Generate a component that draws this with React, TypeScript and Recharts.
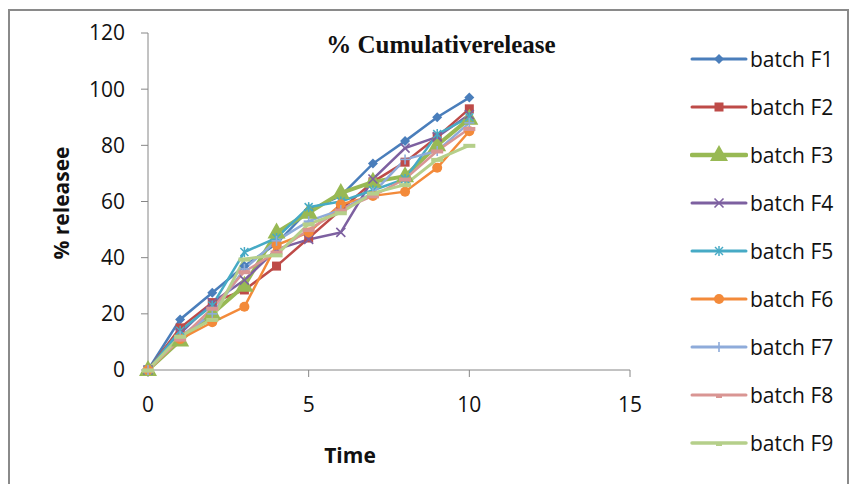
import React from "react";
import { LineChart, Line, XAxis, YAxis, Label } from "recharts";

// time points (h) and cumulative release (%) per batch
const times = [0, 1, 2, 3, 4, 5, 6, 7, 8, 9, 10];
const batchF1 = [0, 18, 27.5, 37, 45, 57, 62, 73.5, 81.5, 90, 97];
const batchF2 = [0, 15, 24, 28.5, 37, 47, 57, 67, 74, 83, 93];
const batchF3 = [0, 10.5, 20, 30, 49, 56, 63, 67, 69, 80, 89.5];
const batchF4 = [0, 13, 24, 32, 43, 46.5, 49, 68, 79, 83, 91];
const batchF5 = [0, 14, 23, 42, 47, 58, 60, 64, 68, 84, 90];
const batchF6 = [0, 11, 17, 22.5, 44.5, 49, 59, 62, 63.5, 72, 85];
const batchF7 = [0, 12, 20, 36, 46, 53, 57, 63, 75, 78, 88];
const batchF8 = [0, 11, 22, 35, 42, 50, 57, 62, 68, 78, 86];
const batchF9 = [0, 12, 18, 39.5, 41, 52, 56, 63, 66, 75, 80];

const xTicks = [0, 5, 10, 15];
const yTicks = [0, 20, 40, 60, 80, 100, 120];

type Shape = "diamond" | "square" | "triangle" | "cross" | "star" | "circle" | "plus" | "dash";

const series: { key: string; name: string; values: number[]; color: string; width: number; shape: Shape }[] = [
  { key: "F1", name: "batch F1", values: batchF1, color: "#4A7EBB", width: 2.5, shape: "diamond" },
  { key: "F2", name: "batch F2", values: batchF2, color: "#BE4B48", width: 2.5, shape: "square" },
  { key: "F3", name: "batch F3", values: batchF3, color: "#98B954", width: 4, shape: "triangle" },
  { key: "F4", name: "batch F4", values: batchF4, color: "#7D60A0", width: 2.5, shape: "cross" },
  { key: "F5", name: "batch F5", values: batchF5, color: "#46AAC5", width: 2.5, shape: "star" },
  { key: "F6", name: "batch F6", values: batchF6, color: "#F38A3A", width: 2.5, shape: "circle" },
  { key: "F7", name: "batch F7", values: batchF7, color: "#8EABDA", width: 2.5, shape: "plus" },
  { key: "F8", name: "batch F8", values: batchF8, color: "#D99593", width: 2.5, shape: "dash" },
  { key: "F9", name: "batch F9", values: batchF9, color: "#B5CF8A", width: 3, shape: "dash" },
];

const data = times.map((t, i) => {
  const row: Record<string, number> = { t };
  series.forEach((s) => {
    row[s.key] = s.values[i];
  });
  return row;
});

function Marker({ shape, color, cx, cy, small }: { shape: Shape; color: string; cx: number; cy: number; small?: boolean }) {
  switch (shape) {
    case "diamond":
      return <polygon points={`${cx},${cy - 5} ${cx + 5},${cy} ${cx},${cy + 5} ${cx - 5},${cy}`} fill={color} />;
    case "square":
      return <rect x={cx - 4.5} y={cy - 4.5} width={9} height={9} fill={color} />;
    case "triangle":
      return <polygon points={`${cx},${cy - 10} ${cx + 9},${cy + 6} ${cx - 9},${cy + 6}`} fill={color} />;
    case "cross":
      return (
        <g stroke={color} strokeWidth={1.6}>
          <line x1={cx - 4.5} y1={cy - 4.5} x2={cx + 4.5} y2={cy + 4.5} />
          <line x1={cx - 4.5} y1={cy + 4.5} x2={cx + 4.5} y2={cy - 4.5} />
        </g>
      );
    case "star":
      return (
        <g stroke={color} strokeWidth={1.5}>
          <line x1={cx - 4} y1={cy - 4} x2={cx + 4} y2={cy + 4} />
          <line x1={cx - 4} y1={cy + 4} x2={cx + 4} y2={cy - 4} />
          <line x1={cx} y1={cy - 5} x2={cx} y2={cy + 5} />
        </g>
      );
    case "circle":
      return <circle cx={cx} cy={cy} r={5} fill={color} />;
    case "plus":
      return (
        <g stroke={color} strokeWidth={1.6}>
          <line x1={cx - 5} y1={cy} x2={cx + 5} y2={cy} />
          <line x1={cx} y1={cy - 5} x2={cx} y2={cy + 5} />
        </g>
      );
    case "dash":
      return small ? (
        <rect x={cx - 3} y={cy} width={6} height={3} fill={color} />
      ) : (
        <rect x={cx - 6} y={cy - 1.5} width={12} height={4} fill={color} />
      );
  }
  return null;
}

const makeDot = (shape: Shape, color: string) => (props: any) => {
  const { cx, cy, index } = props;
  if (cx == null || cy == null) return <g key={`d-${index}`} />;
  return (
    <g key={`d-${index}`}>
      <Marker shape={shape} color={color} cx={cx} cy={cy} />
    </g>
  );
};

const axisColor = "#868686";
const tickFont = { fontFamily: "'Open Sans'", fontSize: 21, fill: "#111" };

export default function App() {
  return (
    <div style={{ position: "absolute", left: 0, top: 0, width: 859, height: 484, background: "#fff", overflow: "hidden" }}>
      <div
        style={{
          position: "absolute",
          left: 8,
          top: 9,
          width: 841,
          height: 500,
          border: "2px solid #8a8a8a",
          boxSizing: "border-box",
        }}
      />
      <LineChart
        width={859}
        height={484}
        data={data}
        margin={{ top: 33, right: 229, bottom: 54, left: 68 }}
        style={{ position: "absolute", left: 0, top: 0 }}
      >
        <XAxis
          dataKey="t"
          type="number"
          domain={[0, 15]}
          ticks={xTicks}
          stroke={axisColor}
          tickSize={7}
          tickMargin={20}
          height={60}
          tick={tickFont}
          tickLine={{ stroke: axisColor }}
        >
          <Label
            content={() => (
              <text x={350} y={463} textAnchor="middle" fontFamily="'Open Sans'" fontWeight="bold" fontSize={21} fill="#111">
                Time
              </text>
            )}
          />
        </XAxis>
        <YAxis
          type="number"
          domain={[0, 120]}
          ticks={yTicks}
          stroke={axisColor}
          tickSize={7}
          tickMargin={16}
          width={80}
          tick={tickFont}
          tickLine={{ stroke: axisColor }}
        >
          <Label
            content={() => (
              <text
                x={69}
                y={203}
                transform="rotate(-90 69 203)"
                textAnchor="middle"
                fontFamily="'Open Sans'"
                fontWeight="bold"
                fontSize={21}
                fill="#111"
              >
                % releasee
              </text>
            )}
          />
        </YAxis>
        {series.map((s) => (
          <Line
            key={s.key}
            dataKey={s.key}
            name={s.name}
            type="linear"
            stroke={s.color}
            strokeWidth={s.width}
            dot={makeDot(s.shape, s.color)}
            activeDot={false}
            isAnimationActive={false}
          />
        ))}
      </LineChart>
      <div
        style={{
          position: "absolute",
          left: 315,
          top: 31,
          width: 252,
          textAlign: "center",
          fontFamily: "'Liberation Serif'",
          fontWeight: "bold",
          fontSize: 25,
          color: "#111",
          whiteSpace: "nowrap",
        }}
      >
        % Cumulativerelease
      </div>
      <div style={{ position: "absolute", left: 690, top: 35 }}>
        {series.map((s) => (
          <div key={s.key} style={{ display: "flex", alignItems: "center", height: 48 }}>
            <svg width={58} height={24}>
              <line x1={2} y1={12} x2={56} y2={12} stroke={s.color} strokeWidth={s.width + 0.5} strokeLinecap="round" />
              <Marker shape={s.shape} color={s.color} cx={29} cy={12} small />
            </svg>
            <span style={{ fontFamily: "'Open Sans'", fontSize: 21, color: "#111", marginLeft: 2 }}>{s.name}</span>
          </div>
        ))}
      </div>
    </div>
  );
}
